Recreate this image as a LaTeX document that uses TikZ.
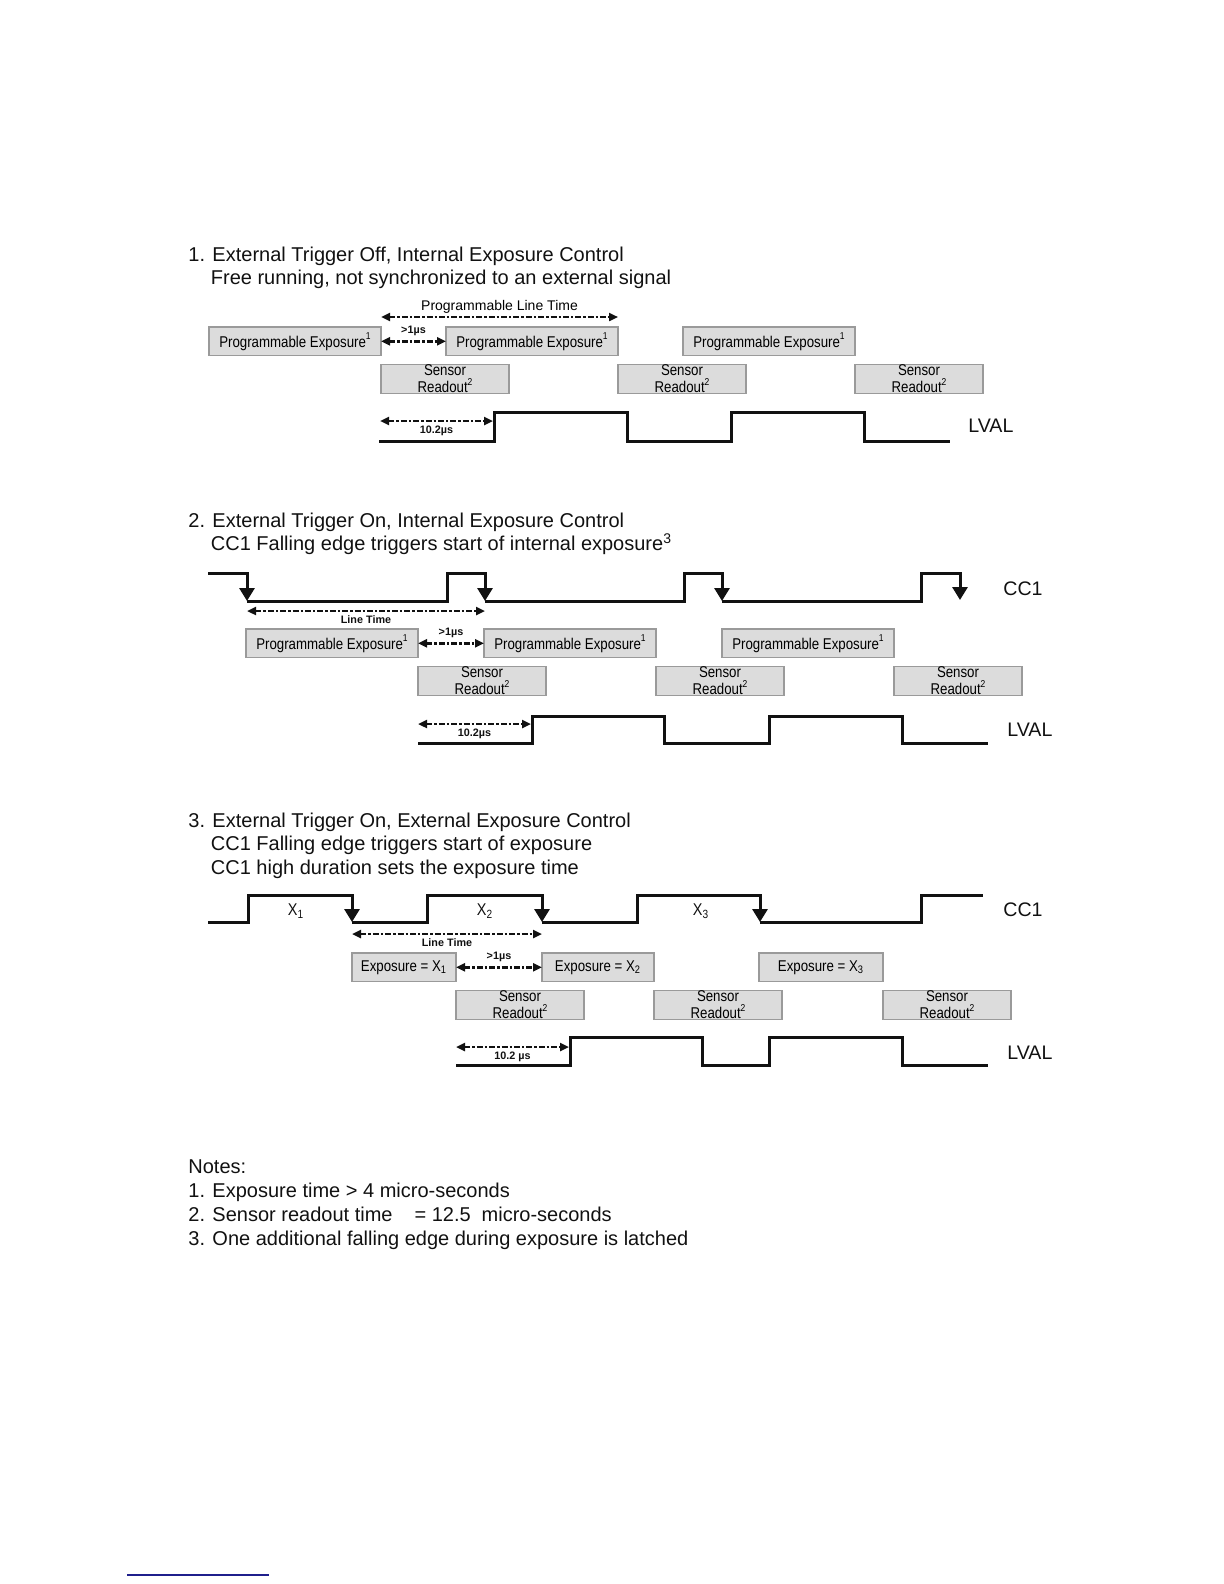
\documentclass[tikz,border=0pt]{standalone}
\usepackage{fontspec}
\setmainfont{Liberation Sans}
\newfontfamily\narrowsf[FakeStretch=0.85]{Liberation Sans}
\usepackage{tikz}
\usetikzlibrary{arrows.meta,positioning}
\definecolor{tmInk}{HTML}{111111}
\definecolor{tmFill}{HTML}{DCDCDC}
\definecolor{tmEdge}{HTML}{9A9A9A}
\definecolor{tmRule}{HTML}{1F1F8C}
\newcommand{\tmsup}[1]{\raisebox{0.95ex}{\fontsize{5}{5}\selectfont #1}}
\tikzset{
  ttl/.style={anchor=base west, inner sep=0pt, text=tmInk, font=\fontsize{10}{12}\selectfont},
  box/.style={draw=tmEdge, fill=tmFill, line width=0.6pt, inner sep=0pt, outer sep=0pt, minimum height=14.3pt, align=center, font=\narrowsf\fontsize{7.8}{8.6}\selectfont},
  boxE/.style={box, minimum width=86pt},
  boxR/.style={box, minimum width=64pt},
  sig/.style={line width=1.5pt, draw=tmInk},
  trg/.style={sig, -{Triangle[length=6.5pt, width=7.5pt]}},
  dimarr/.style={line width=1.2pt, draw=tmInk, dash pattern=on 3pt off 1pt on 1.2pt off 1pt, {Triangle[length=4.5pt, width=4pt]}-{Triangle[length=4.5pt, width=4pt]}},
  lbl/.style={inner sep=0.5pt, text=tmInk, font=\bfseries\fontsize{5.4}{5.4}\selectfont},
  sname/.style={anchor=base west, inner sep=0pt, text=tmInk, font=\fontsize{9.8}{10}\selectfont},
  xlbl/.style={inner sep=0pt, text=tmInk, font=\narrowsf\fontsize{8.5}{8.5}\selectfont},
}
\begin{document}
\begin{tikzpicture}[x=0.5pt, y=-0.5pt]
    \useasboundingbox (0,0) rectangle (1224,1584);

    % 1. free running
    \node[ttl] (tA1) at (188,261) {1. External Trigger Off, Internal Exposure Control};
    \node[ttl] (tA2) at (210.5,284.5) {Free running, not synchronized to an external signal};
    \node[boxE, anchor=north west] (pA1) at (209,327) {Programmable Exposure\tmsup{1}};
    \node[boxE, right=32.5pt of pA1] (pA2) {Programmable Exposure\tmsup{1}};
    \node[boxE, right=32.5pt of pA2] (pA3) {Programmable Exposure\tmsup{1}};
    \node[boxR, below=4.5pt of pA1.south east, anchor=north west] (rA1) {Sensor\\Readout\tmsup{2}};
    \node[boxR, below=4.5pt of pA2.south east, anchor=north west] (rA2) {Sensor\\Readout\tmsup{2}};
    \node[boxR, below=4.5pt of pA3.south east, anchor=north west] (rA3) {Sensor\\Readout\tmsup{2}};
    \draw[dimarr] ([yshift=5pt]pA1.north east) -- ([yshift=5pt]pA2.north east) node[midway, above=0.5pt, inner sep=0.5pt, font=\fontsize{7}{7}\selectfont] {Programmable Line Time};
    \draw[dimarr] (pA1) -- (pA2) node[midway, above=1.5pt, lbl] {>1µs};
    \draw[sig] (379,441) -- (494,441) -- (494,412) -- (627,412) -- (627,441) -- (731,441) -- (731,412) -- (864,412) -- (864,441) -- (950,441);
    \coordinate (dA1) at (380,421); \coordinate (dA2) at (493,421);
    \draw[dimarr] (dA1) -- (dA2) node[midway, below=1.5pt, lbl] {10.2µs};
    \node[sname] (lvA) at (968,432) {LVAL};

    % 2. external trigger, internal exposure
    \node[ttl] (tB1) at (188,527) {2. External Trigger On, Internal Exposure Control};
    \node[ttl] (tB2) at (210.5,550.5) {CC1 Falling edge triggers start of internal exposure\textsuperscript{3}};
    \draw[trg] (208,573) -- (247,573) -- (247,601);
    \draw[trg] (247,601) -- (447,601) -- (447,573) -- (485,573) -- (485,601);
    \draw[trg] (485,601) -- (684,601) -- (684,573) -- (722,573) -- (722,601);
    \draw[trg] (722,601) -- (921,601) -- (921,573) -- (960,573) -- (960,600);
    \node[sname] (ccB) at (1003,595) {CC1};
    \coordinate (fB1) at (247,611); \coordinate (fB2) at (485,611);
    \draw[dimarr] (fB1) -- (fB2) node[midway, below=1pt, lbl] {Line Time};
    \node[boxE, anchor=north west] (pB1) at (246,629) {Programmable Exposure\tmsup{1}};
    \node[boxE, right=33pt of pB1] (pB2) {Programmable Exposure\tmsup{1}};
    \node[boxE, right=33pt of pB2] (pB3) {Programmable Exposure\tmsup{1}};
    \node[boxR, below=4.5pt of pB1.south east, anchor=north west] (rB1) {Sensor\\Readout\tmsup{2}};
    \node[boxR, below=4.5pt of pB2.south east, anchor=north west] (rB2) {Sensor\\Readout\tmsup{2}};
    \node[boxR, below=4.5pt of pB3.south east, anchor=north west] (rB3) {Sensor\\Readout\tmsup{2}};
    \draw[dimarr] (pB1) -- (pB2) node[midway, above=1.5pt, lbl] {>1µs};
    \draw[sig] (418,743) -- (532,743) -- (532,716) -- (664,716) -- (664,743) -- (769,743) -- (769,716) -- (902,716) -- (902,743) -- (988,743);
    \coordinate (dB1) at (418,724); \coordinate (dB2) at (531,724);
    \draw[dimarr] (dB1) -- (dB2) node[midway, below=1.5pt, lbl] {10.2µs};
    \node[sname] (lvB) at (1007,736) {LVAL};

    % 3. external trigger, external exposure
    \node[ttl] (tC1) at (188,827) {3. External Trigger On, External Exposure Control};
    \node[ttl] (tC2) at (210.5,850.5) {CC1 Falling edge triggers start of exposure};
    \node[ttl] (tC3) at (210.5,874) {CC1 high duration sets the exposure time};
    \draw[trg] (208,922) -- (248,922) -- (248,895) -- (352,895) -- (352,922);
    \draw[trg] (352,922) -- (427,922) -- (427,895) -- (542,895) -- (542,922);
    \draw[trg] (542,922) -- (637,922) -- (637,895) -- (760,895) -- (760,922);
    \draw[sig] (760,922) -- (921,922) -- (921,895) -- (983,895);
    \node[xlbl] (xC1) at (296,911) {X\textsubscript{1}};
    \node[xlbl] (xC2) at (485,911) {X\textsubscript{2}};
    \node[xlbl] (xC3) at (701,911) {X\textsubscript{3}};
    \node[sname] (ccC) at (1003,916) {CC1};
    \coordinate (fC1) at (352,934); \coordinate (fC2) at (542,934);
    \draw[dimarr] (fC1) -- (fC2) node[midway, below=1pt, lbl] {Line Time};
    \node[box, minimum width=52pt, anchor=north west] (eC1) at (352,953) {Exposure = X\textsubscript{1}};
    \node[box, minimum width=56pt, right=43pt of eC1] (eC2) {Exposure = X\textsubscript{2}};
    \node[box, minimum width=62pt, right=52.5pt of eC2] (eC3) {Exposure = X\textsubscript{3}};
    \node[boxR, below=4.5pt of eC1.south east, anchor=north west] (rC1) {Sensor\\Readout\tmsup{2}};
    \node[boxR, below=4.5pt of eC2.south east, anchor=north west] (rC2) {Sensor\\Readout\tmsup{2}};
    \node[boxR, below=4.5pt of eC3.south east, anchor=north west] (rC3) {Sensor\\Readout\tmsup{2}};
    \draw[dimarr] (eC1) -- (eC2) node[midway, above=1.5pt, lbl] {>1µs};
    \draw[sig] (456,1065) -- (570,1065) -- (570,1037) -- (702,1037) -- (702,1065) -- (769,1065) -- (769,1037) -- (902,1037) -- (902,1065) -- (988,1065);
    \coordinate (dC1) at (456,1047); \coordinate (dC2) at (569,1047);
    \draw[dimarr] (dC1) -- (dC2) node[midway, below=1.5pt, lbl] {10.2 µs};
    \node[sname] (lvC) at (1007,1059) {LVAL};

    % notes
    \node[ttl] (nt0) at (188,1173) {Notes:};
    \node[ttl] (nt1) at (188,1197) {1. Exposure time > 4 micro-seconds};
    \node[ttl] (nt2) at (188,1221) {2. Sensor readout time\hspace{1.1em}= 12.5\hspace{0.55em}micro-seconds};
    \node[ttl] (nt3) at (188,1245) {3. One additional falling edge during exposure is latched};
    \draw[tmRule, line width=1pt] (127,1575) -- (269,1575);
\end{tikzpicture}
\end{document}
